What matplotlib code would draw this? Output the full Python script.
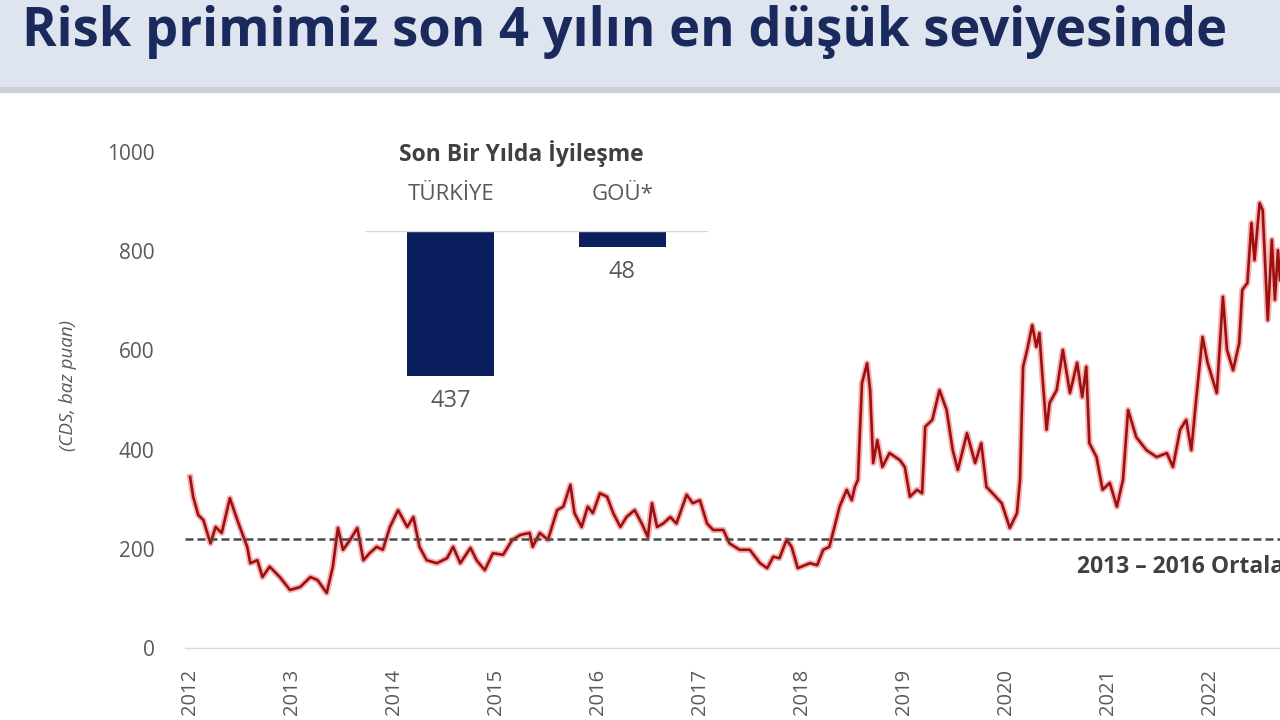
import numpy as np
import matplotlib
matplotlib.use("Agg")
import matplotlib.pyplot as plt
from matplotlib.patches import Rectangle

plt.rcParams['font.family'] = ['Open Sans', 'DejaVu Sans']

# CDS (baz puan), yil kesirli
yil = [2012.00, 2012.03, 2012.08, 2012.13, 2012.20, 2012.25, 2012.31, 2012.39, 2012.47, 2012.56,
       2012.59, 2012.66, 2012.71, 2012.78, 2012.88, 2012.98, 2013.08, 2013.18, 2013.25, 2013.34,
       2013.40, 2013.45, 2013.50, 2013.57, 2013.64, 2013.70, 2013.76, 2013.83, 2013.89, 2013.96,
       2014.04, 2014.13, 2014.19, 2014.25, 2014.32, 2014.42, 2014.52, 2014.58, 2014.65, 2014.75,
       2014.81, 2014.89, 2014.97, 2015.07, 2015.16, 2015.24, 2015.33, 2015.36, 2015.43, 2015.51,
       2015.60, 2015.66, 2015.73, 2015.77, 2015.84, 2015.90, 2015.95, 2016.02, 2016.09, 2016.15,
       2016.22, 2016.28, 2016.36, 2016.43, 2016.49, 2016.53, 2016.58, 2016.64, 2016.71, 2016.77,
       2016.87, 2016.93, 2017.00, 2017.07, 2017.13, 2017.23, 2017.29, 2017.39, 2017.49, 2017.59,
       2017.66, 2017.72, 2017.78, 2017.85, 2017.90, 2017.96, 2018.08, 2018.15, 2018.21, 2018.27,
       2018.32, 2018.37, 2018.44, 2018.49, 2018.52, 2018.55, 2018.59, 2018.64, 2018.67, 2018.70,
       2018.74, 2018.79, 2018.86, 2018.96, 2019.01, 2019.06, 2019.13, 2019.18, 2019.21, 2019.28,
       2019.35, 2019.42, 2019.48, 2019.53, 2019.62, 2019.70, 2019.76, 2019.81, 2019.87, 2019.96,
       2020.04, 2020.11, 2020.14, 2020.17, 2020.21, 2020.26, 2020.30, 2020.33, 2020.36, 2020.40,
       2020.43, 2020.50, 2020.56, 2020.63, 2020.70, 2020.75, 2020.79, 2020.82, 2020.89, 2020.95,
       2021.02, 2021.09, 2021.15, 2021.20, 2021.28, 2021.38, 2021.48, 2021.58, 2021.64, 2021.71,
       2021.77, 2021.82, 2021.87, 2021.93, 2021.98, 2022.07, 2022.13, 2022.17, 2022.23, 2022.29,
       2022.32, 2022.37, 2022.41, 2022.44, 2022.49, 2022.52, 2022.57, 2022.61, 2022.64, 2022.67,
       2022.69]
cds = [345, 305, 268, 258, 211, 244, 232, 302, 254, 204,
       171, 177, 143, 164, 143, 117, 123, 143, 137, 111,
       164, 242, 198, 218, 242, 177, 191, 204, 198, 244,
       278, 244, 264, 204, 177, 171, 181, 204, 171, 202,
       177, 157, 191, 188, 218, 228, 232, 204, 232, 218,
       278, 285, 329, 272, 244, 285, 272, 312, 305, 272,
       244, 264, 278, 251, 224, 292, 244, 251, 264, 251,
       309, 292, 298, 251, 238, 238, 211, 198, 198, 171,
       161, 184, 181, 218, 204, 161, 171, 167, 198, 204,
       244, 285, 319, 298, 325, 339, 534, 574, 520, 373,
       419, 365, 393, 379, 365, 305, 319, 312, 446, 460,
       520, 480, 399, 359, 433, 373, 413, 325, 312, 292,
       242, 272, 339, 567, 601, 651, 607, 635, 547, 440,
       494, 520, 601, 514, 575, 506, 567, 413, 385, 319,
       333, 285, 339, 480, 425, 399, 385, 393, 365, 440,
       460, 399, 506, 627, 575, 514, 708, 601, 560, 615,
       722, 736, 857, 782, 897, 883, 661, 823, 702, 802,
       742]

ortalama = 220  # 2013-2016 ortalamasi
yillar = list(range(2012, 2023))

ulkeler = ['TÜRKİYE', 'GOÜ*']
iyilesme = [437, 48]

fig = plt.figure(figsize=(12.8, 7.2), dpi=100)
fig.patch.set_facecolor('white')

# baslik bandi
fig.patches.append(Rectangle((0, 0.878), 1, 0.122, transform=fig.transFigure,
                             facecolor='#dfe5ef', edgecolor='none', zorder=0))
fig.patches.append(Rectangle((0, 0.871), 1, 0.008, transform=fig.transFigure,
                             facecolor='#cbd1dc', edgecolor='none', zorder=0))
fig.text(22/1280, 1 - 46/720, 'Risk primimiz son 4 yılın en düşük seviyesinde',
         fontsize=37.8, fontweight='bold', color='#1b2a5c', va='baseline', ha='left')

ax = fig.add_axes([185/1280, 0.1, 1 - 185/1280, 1 - 0.1 - 152/720])
ax.plot(yil, cds, color='#e02828', lw=4.5, alpha=0.35, solid_joinstyle='round')
ax.plot(yil, cds, color='#9e1010', lw=1.9, solid_joinstyle='round')
ax.axhline(ortalama, color='#4a4a4a', lw=1.8, linestyle=(0, (3.2, 1.6)))
ax.text(2020.7, 163, '2013 – 2016 Ortalaması', fontsize=16.5, fontweight='bold',
        color='#404040', ha='left', va='center', clip_on=False)

ax.set_xlim(2011.95, 2022.69)
ax.set_ylim(0, 1000)
ax.set_yticks(range(0, 1001, 200))
ax.set_xticks(yillar)
ax.set_xticklabels([str(y) for y in yillar], rotation=90, va='top')
ax.tick_params(axis='y', length=0, labelsize=15, colors='#595959', pad=22)
ax.tick_params(axis='x', length=0, labelsize=14.5, colors='#595959', pad=15)
for s in ['top', 'right', 'left']:
    ax.spines[s].set_visible(False)
ax.spines['bottom'].set_color('#d9d9d9')
ax.spines['bottom'].set_linewidth(1)
ax.set_ylabel('(CDS, baz puan)', fontsize=13.5, style='italic', color='#595959')
ax.yaxis.set_label_coords(-0.099, 0.53)

# ic grafik
ins = fig.add_axes([365/1280, 1 - 397/720, 343/1280, 166/720])
ins.patch.set_alpha(0)
ins.bar([0, 1], [-v for v in iyilesme], width=0.51, color='#0b1f5e')
ins.axhline(0, color='#d9d9d9', lw=1)
ins.set_xlim(-0.5, 1.5)
ins.set_ylim(-500, 0)
ins.axis('off')
for i, (u, v) in enumerate(zip(ulkeler, iyilesme)):
    ins.annotate(u, (i, 0), xytext=(0, 36), textcoords='offset pixels', ha='center',
                 va='center', fontsize=16, color='#595959')
    ins.annotate(str(v), (i, -v), xytext=(0, -25), textcoords='offset pixels', ha='center',
                 va='center', fontsize=17, color='#595959')
ins.annotate('Son Bir Yılda İyileşme', (0.5, 0), xytext=(-15, 77), textcoords='offset pixels',
             ha='center', va='center', fontsize=16.5, fontweight='bold', color='#404040')

fig.savefig('out.png', dpi=100)
